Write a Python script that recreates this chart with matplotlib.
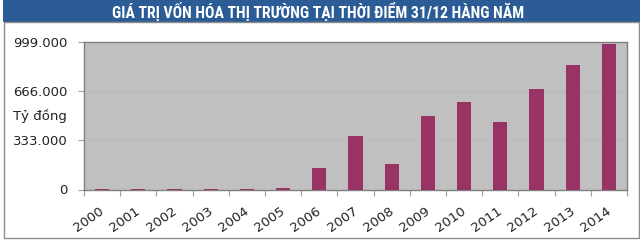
import matplotlib
matplotlib.use("Agg")
import matplotlib.pyplot as plt
from matplotlib.patches import Rectangle
from matplotlib.ticker import FuncFormatter, FixedLocator
import matplotlib.transforms as mtransforms
from matplotlib import font_manager

years = ["2000", "2001", "2002", "2003", "2004", "2005", "2006", "2007",
         "2008", "2009", "2010", "2011", "2012", "2013", "2014"]
market_cap = [500, 800, 1000, 1500, 4500, 9000, 147000, 365000,
              170000, 495000, 592000, 455000, 679000, 846000, 985000]
y_ticks = [0, 333000, 666000, 999000]
title = "GIÁ TRỊ VỐN HÓA THỊ TRƯỜNG TẠI THỜI ĐIỂM 31/12 HÀNG NĂM"
unit_label = "Tỷ đồng"

W, H = 640, 241
fig = plt.figure(figsize=(W / 100, H / 100), dpi=100)
fig.patch.set_facecolor("white")

# banner
fig.patches.append(Rectangle((3 / W, (H - 22) / H), 1 - 3 / W, 22 / H,
                             transform=fig.transFigure, facecolor="#2B5C96",
                             edgecolor="none", zorder=0))
# outer frame
fig.patches.append(Rectangle((3.5 / W, 3 / H), (638.5 - 3.5) / W, (H - 22 - 3) / H,
                             transform=fig.transFigure, facecolor="none",
                             edgecolor="#8C8C8C", linewidth=1.0, zorder=0))

# pick a condensed font if one is installed
names = {f.name for f in font_manager.fontManager.ttflist}
title_kwargs = dict(family="DejaVu Sans", fontstretch="condensed")
for cand in ["Liberation Sans Narrow", "Roboto Condensed", "Open Sans Condensed", "DejaVu Sans Condensed"]:
    if cand in names:
        title_kwargs = dict(family=cand)
        break

t = fig.text(318 / W, (H - 11.5) / H, title, color="white", fontsize=11.5,
             fontweight="bold", ha="center", va="center", **title_kwargs)
fig.canvas.draw()
w = t.get_window_extent().width
target = 412
fs = 11.5 * target / w
t.set_fontsize(min(fs, 12.5))

left, right, top, bottom = 84, 627, 42, 189.5
ax = fig.add_axes([left / W, (H - bottom) / H, (right - left) / W, (bottom - top) / H])
ax.set_facecolor("#C0C0C0")

x = list(range(len(years)))
ax.bar(x, market_cap, width=0.39, color="#993366", linewidth=0, zorder=3)

ax.set_xlim(-0.5, len(years) - 0.5)
ax.set_ylim(0, 999000)

ax.yaxis.set_major_locator(FixedLocator(y_ticks))
ax.yaxis.set_major_formatter(FuncFormatter(lambda v, p: "0" if v == 0 else f"{int(v):,}".replace(",", ".")))
ax.grid(axis="y", color="#B6B6B6", linewidth=0.6, zorder=1)

ax.set_xticks(x)
ax.set_xticklabels(years, rotation=35, ha="right", rotation_mode="anchor")
ax.set_xticks([i - 0.5 for i in range(len(years) + 1)], minor=True)
ax.tick_params(axis="x", which="major", length=0, pad=11, labelsize=9.5, labelcolor="#222222")
ax.tick_params(axis="x", which="minor", length=4, color="#A0A0A0", width=0.8)
ax.tick_params(axis="y", length=4, color="#A0A0A0", width=0.8, pad=8, labelsize=9.5, labelcolor="#222222")
offset = mtransforms.ScaledTranslation(-3 / 100, 0, fig.dpi_scale_trans)
for lab in ax.get_xticklabels():
    lab.set_transform(lab.get_transform() + offset)
for lab in ax.get_yticklabels() + ax.get_xticklabels():
    lab.set_family("DejaVu Sans")

for s in ax.spines.values():
    s.set_color("#808080")
    s.set_linewidth(1.0)

fig.text(40 / W, (H - 116) / H, unit_label, fontsize=9.5, ha="center", va="center",
         color="#222222", family="DejaVu Sans")

fig.savefig("out.png", dpi=100, facecolor="white")
